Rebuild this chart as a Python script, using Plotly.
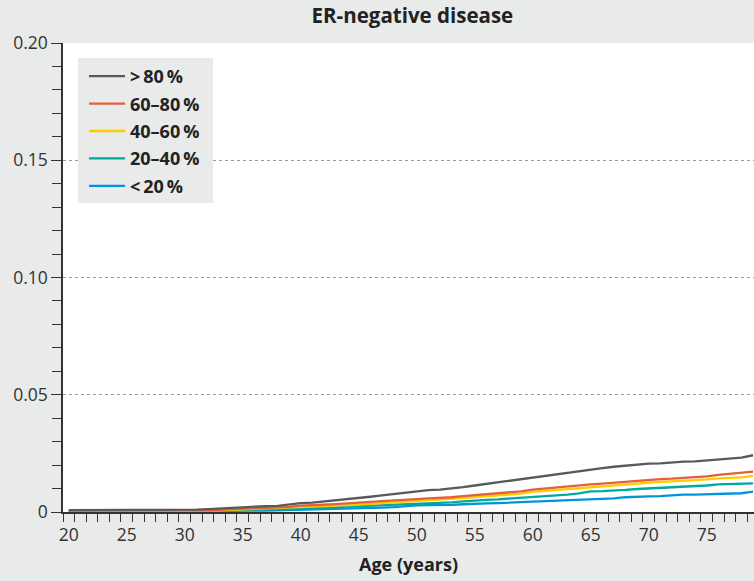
import plotly.graph_objects as go

ages = list(range(20, 80))

gt80 = [0.0008]*11 + [0.0010, 0.0012, 0.0015, 0.0018, 0.0022, 0.0024, 0.0025, 0.0026, 0.0033,
        0.0038, 0.0040, 0.0045, 0.0050, 0.0052, 0.0058, 0.0065, 0.0071, 0.0077, 0.0083,
        0.0089, 0.0093, 0.0095, 0.0099, 0.0106, 0.0113, 0.0120, 0.0127, 0.0134, 0.0141,
        0.0148, 0.0155, 0.0162, 0.0168, 0.0175, 0.0181, 0.0187, 0.0193, 0.0198, 0.0203,
        0.0206, 0.0207, 0.0212, 0.0215, 0.0216, 0.0220, 0.0226, 0.0227, 0.0232, 0.0242]

p60_80 = [0.0006]*12 + [0.0007, 0.0009, 0.0012, 0.0014, 0.0016, 0.0017, 0.0018, 0.0022,
          0.0027, 0.0028, 0.0031, 0.0034, 0.0036, 0.0040, 0.0043, 0.0046, 0.0048, 0.0051,
          0.0055, 0.0058, 0.0060, 0.0063, 0.0068, 0.0072, 0.0075, 0.0079, 0.0083, 0.0088,
          0.0095, 0.0100, 0.0103, 0.0107, 0.0113, 0.0118, 0.0121, 0.0125, 0.0129, 0.0134,
          0.0137, 0.0140, 0.0142, 0.0145, 0.0147, 0.0152, 0.0158, 0.0162, 0.0165, 0.0172]

p40_60 = [0.0005]*13 + [0.0007, 0.0009, 0.0011, 0.0012, 0.0013, 0.0014, 0.0017,
          0.0021, 0.0022, 0.0025, 0.0027, 0.0029, 0.0032, 0.0035, 0.0038, 0.0040, 0.0043,
          0.0046, 0.0049, 0.0051, 0.0054, 0.0059, 0.0064, 0.0067, 0.0070, 0.0074, 0.0078,
          0.0086, 0.0090, 0.0093, 0.0097, 0.0103, 0.0108, 0.0111, 0.0114, 0.0118, 0.0123,
          0.0127, 0.0129, 0.0131, 0.0133, 0.0135, 0.0139, 0.0143, 0.0145, 0.0148, 0.0154]

p20_40 = [0.0004]*14 + [0.0006, 0.0008, 0.0009, 0.0010, 0.0011, 0.0013,
          0.0016, 0.0017, 0.0019, 0.0021, 0.0022, 0.0025, 0.0027, 0.0029, 0.0031, 0.0033,
          0.0036, 0.0038, 0.0039, 0.0041, 0.0045, 0.0050, 0.0052, 0.0054, 0.0057, 0.0060,
          0.0066, 0.0069, 0.0071, 0.0074, 0.0079, 0.0088, 0.0089, 0.0090, 0.0094, 0.0098,
          0.0100, 0.0102, 0.0106, 0.0108, 0.0109, 0.0113, 0.0118, 0.0120, 0.0121, 0.0122]

lt20 = [0.0003]*15 + [0.0004, 0.0005, 0.0006, 0.0007, 0.0008,
        0.0009, 0.0010, 0.0011, 0.0012, 0.0014, 0.0016, 0.0018, 0.0019, 0.0021, 0.0025,
        0.0028, 0.0029, 0.0029, 0.0030, 0.0033, 0.0036, 0.0037, 0.0038, 0.0040, 0.0041,
        0.0045, 0.0047, 0.0048, 0.0049, 0.0052, 0.0055, 0.0056, 0.0058, 0.0063, 0.0066,
        0.0067, 0.0068, 0.0072, 0.0074, 0.0074, 0.0075, 0.0078, 0.0079, 0.0080, 0.0087]

series_names = [">\u200980\u2009%", "60\u201380\u2009%", "40\u201360\u2009%", "20\u201340\u2009%", "<\u200920\u2009%"]
series_values = [gt80, p60_80, p40_60, p20_40, lt20]
series_colors = ["#58595B", "#E2603A", "#FFCC00", "#00A99D", "#0095DA"]

x_tick_vals = [20, 25, 30, 35, 40, 45, 50, 55, 60, 65, 70, 75]
x_minor_vals = [v + 0.5 for v in range(19, 80)]
y_tick_vals = [0, 0.05, 0.10, 0.15, 0.20]
y_tick_text = ["0", "0.05", "0.10", "0.15", "0.20"]
y_minor_vals = [i / 100 for i in range(0, 21)]

BG = "#E9EAEA"
FONT = "Open Sans"
W, H = 754, 581
ML, MR, MT, MB = 63, 0, 43, 69
PW, PH = W - ML - MR, H - MT - MB


def px_x(p):
    return (p - ML) / PW


def px_y(p):
    return 1 - (p - MT) / PH


fig = go.Figure()
# draw lowest first so the grey line sits on top
for i in reversed(range(len(series_names))):
    fig.add_trace(go.Scatter(
        x=ages, y=series_values[i], mode="lines", name=series_names[i],
        legendgroup=f"g{i}", legendrank=i + 1,
        line=dict(color=series_colors[i], width=2.3),
    ))

# legend background box
fig.add_shape(type="rect", xref="paper", yref="paper", layer="above",
              x0=px_x(78), x1=px_x(213), y0=px_y(203), y1=px_y(58),
              fillcolor=BG, line=dict(width=0))

fig.update_layout(
    width=W, height=H,
    paper_bgcolor=BG, plot_bgcolor="white",
    margin=dict(l=ML, r=MR, t=MT, b=MB),
    font=dict(family=FONT, size=17, color="#333333"),
    title=dict(text="<b>ER-negative disease</b>", x=0.547, xref="container", xanchor="center",
               y=1 - 16 / H, yref="container", yanchor="middle",
               font=dict(family=FONT, size=20.5, color="#222222")),
    showlegend=True,
    legend=dict(x=px_x(84), y=px_y(58), xanchor="left", yanchor="top",
                bgcolor="rgba(0,0,0,0)", borderwidth=0, tracegroupgap=1,
                font=dict(family=FONT, size=18, color="#222222", weight="bold"),
                itemwidth=36),
)

fig.update_xaxes(
    range=[19.5, 79.08], tickmode="array", tickvals=x_tick_vals,
    ticks="outside", ticklen=0, showgrid=False, zeroline=False,
    showline=True, linecolor="#333333", linewidth=1.5,
    minor=dict(tickmode="array", tickvals=x_minor_vals, ticks="outside", ticklen=8,
               tickwidth=1.2, tickcolor="#333333", showgrid=False),
    tickfont=dict(family=FONT, size=17.5, color="#333333"),
    ticklabelstandoff=6,
    title=dict(text="<b>Age (years)</b>", standoff=14,
               font=dict(family=FONT, size=18, color="#222222")),
)

fig.update_yaxes(
    range=[0, 0.2], tickmode="array", tickvals=y_tick_vals, ticktext=y_tick_text,
    ticks="outside", ticklen=10, tickwidth=1.2, tickcolor="#333333",
    showgrid=True, gridcolor="#9A9A9A", griddash="dot", gridwidth=1,
    zeroline=False, showline=True, linecolor="#333333", linewidth=1.5,
    minor=dict(tickmode="array", tickvals=y_minor_vals, ticks="outside", ticklen=9,
               tickwidth=1.2, tickcolor="#333333", showgrid=False),
    tickfont=dict(family=FONT, size=17.5, color="#333333"),
    ticklabelstandoff=0,
)

fig.write_html(
    "out.html",
    config={"displayModeBar": False},
    post_script="document.body.style.margin='0';document.body.style.overflow='hidden';"
                "document.body.style.background='" + BG + "';"
                "document.documentElement.style.background='" + BG + "';",
)
